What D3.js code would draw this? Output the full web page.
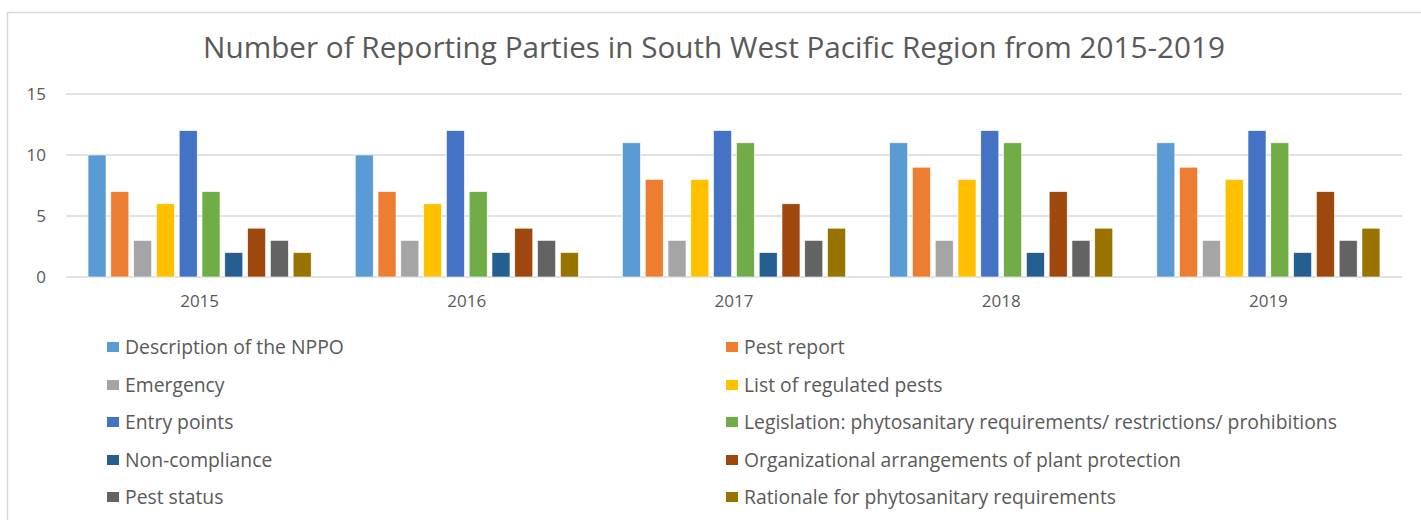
<!DOCTYPE html>
<html>
<head>
<meta charset="utf-8">
<script src="https://cdn.jsdelivr.net/npm/d3@7"></script>
<style>
body { margin: 0; background: #fff; }
svg { display: block; }
text { font-family: "Open Sans", "DejaVu Sans", sans-serif; fill: #595959; }
</style>
</head>
<body>
<div id="chart"></div>
<script>
// Chart data
const years = ["2015", "2016", "2017", "2018", "2019"];
const seriesNames = [
	"Description of the NPPO",
	"Pest report",
	"Emergency",
	"List of regulated pests",
	"Entry points",
	"Legislation: phytosanitary requirements/ restrictions/ prohibitions",
	"Non-compliance",
	"Organizational arrangements of plant protection",
	"Pest status",
	"Rationale for phytosanitary requirements"
];
const descriptionNPPO = [10, 10, 11, 11, 11];
const pestReport = [7, 7, 8, 9, 9];
const emergency = [3, 3, 3, 3, 3];
const regulatedPests = [6, 6, 8, 8, 8];
const entryPoints = [12, 12, 12, 12, 12];
const legislation = [7, 7, 11, 11, 11];
const nonCompliance = [2, 2, 2, 2, 2];
const organizational = [4, 4, 6, 7, 7];
const pestStatus = [3, 3, 3, 3, 3];
const rationale = [2, 2, 4, 4, 4];
const yTicks = [0, 5, 10, 15];
const colors = ["#5B9BD5", "#ED7D31", "#A5A5A5", "#FFC000", "#4472C4",
	"#70AD47", "#255E91", "#9E480E", "#636363", "#997300"];

const seriesValues = [descriptionNPPO, pestReport, emergency, regulatedPests, entryPoints,
	legislation, nonCompliance, organizational, pestStatus, rationale];

const width = 1421, height = 520;
const plot = {left: 66, right: 1402, top: 94, bottom: 277};

let svg = d3.select("#chart").append("svg")
	.attr("width", width)
	.attr("height", height);

// chart frame
svg.append("rect")
	.attr("x", 7.5).attr("y", 12.5)
	.attr("width", 1440).attr("height", 540)
	.attr("fill", "none")
	.attr("stroke", "#D9D9D9")
	.attr("stroke-width", 1.5);

let x0 = d3.scaleBand().domain(years).range([plot.left, plot.right])
	.paddingInner(0.147).paddingOuter(0.0735);
let x1 = d3.scaleBand().domain(d3.range(seriesNames.length)).range([0, x0.bandwidth()])
	.paddingInner(0.21).paddingOuter(0.105);
let y = d3.scaleLinear().domain([0, 15]).range([plot.bottom, plot.top]);

// gridlines
svg.append("g").selectAll("line").data(yTicks).enter().append("line")
	.attr("x1", plot.left).attr("x2", plot.right)
	.attr("y1", function(d) {return y(d)}).attr("y2", function(d) {return y(d)})
	.attr("stroke", "#D9D9D9").attr("stroke-width", 1.5);

// y axis labels
let yAxis = svg.append("g")
	.attr("transform", "translate(" + (plot.left - 20) + ",0)")
	.call(d3.axisLeft(y).tickValues(yTicks).tickSize(0).tickPadding(0));
yAxis.select(".domain").remove();
yAxis.selectAll("text").style("font-size", "17px").attr("fill", "#595959");

// x axis labels
let xAxis = svg.append("g")
	.attr("transform", "translate(0," + plot.bottom + ")")
	.call(d3.axisBottom(x0).tickSize(0).tickPadding(18));
xAxis.select(".domain").remove();
xAxis.selectAll("text").style("font-size", "17px").attr("fill", "#595959");

// bars
let groups = svg.append("g").selectAll("g").data(years).enter().append("g")
	.attr("transform", function(d) {return "translate(" + x0(d) + ",0)"});

groups.selectAll("rect")
	.data(function(d, i) {return seriesValues.map(function(vals, s) {return {s: s, v: vals[i]}})})
	.enter().append("rect")
	.attr("x", function(d) {return x1(d.s)})
	.attr("y", function(d) {return y(d.v)})
	.attr("width", x1.bandwidth())
	.attr("height", function(d) {return y(0) - y(d.v)})
	.attr("fill", function(d) {return colors[d.s]})
	.attr("stroke", "#fff")
	.attr("stroke-width", 0.6);

// fit a text element's font size to a target width
function fitText(sel, target) {
	let w = sel.node().getComputedTextLength();
	let fs = parseFloat(sel.style("font-size"));
	sel.style("font-size", (fs * target / w) + "px");
}

// title
let title = svg.append("text")
	.attr("x", 714).attr("y", 58)
	.style("text-anchor", "middle")
	.style("font-size", "24px")
	.text("Number of Reporting Parties in South West Pacific Region from 2015-2019");
fitText(title, 1022);

// legend, two columns
let legendX = [107, 726];
let legendY = [347, 385, 422, 460, 497];
let legend = svg.append("g").selectAll("g").data(seriesNames).enter().append("g")
	.attr("transform", function(d, i) {
		return "translate(" + legendX[i % 2] + "," + legendY[Math.floor(i / 2)] + ")";
	});

legend.append("rect")
	.attr("x", 0).attr("y", -5)
	.attr("width", 12).attr("height", 10)
	.attr("fill", function(d, i) {return colors[i]});

let labels = legend.append("text")
	.attr("x", 18).attr("y", 0)
	.attr("dy", "0.35em")
	.style("font-size", "16px")
	.text(function(d) {return d});

// size legend font so the longest label matches
let longest = labels.filter(function(d, i) {return i == 5});
let lw = longest.node().getComputedTextLength();
labels.style("font-size", (16 * 593 / lw) + "px");
</script>
</body>
</html>
